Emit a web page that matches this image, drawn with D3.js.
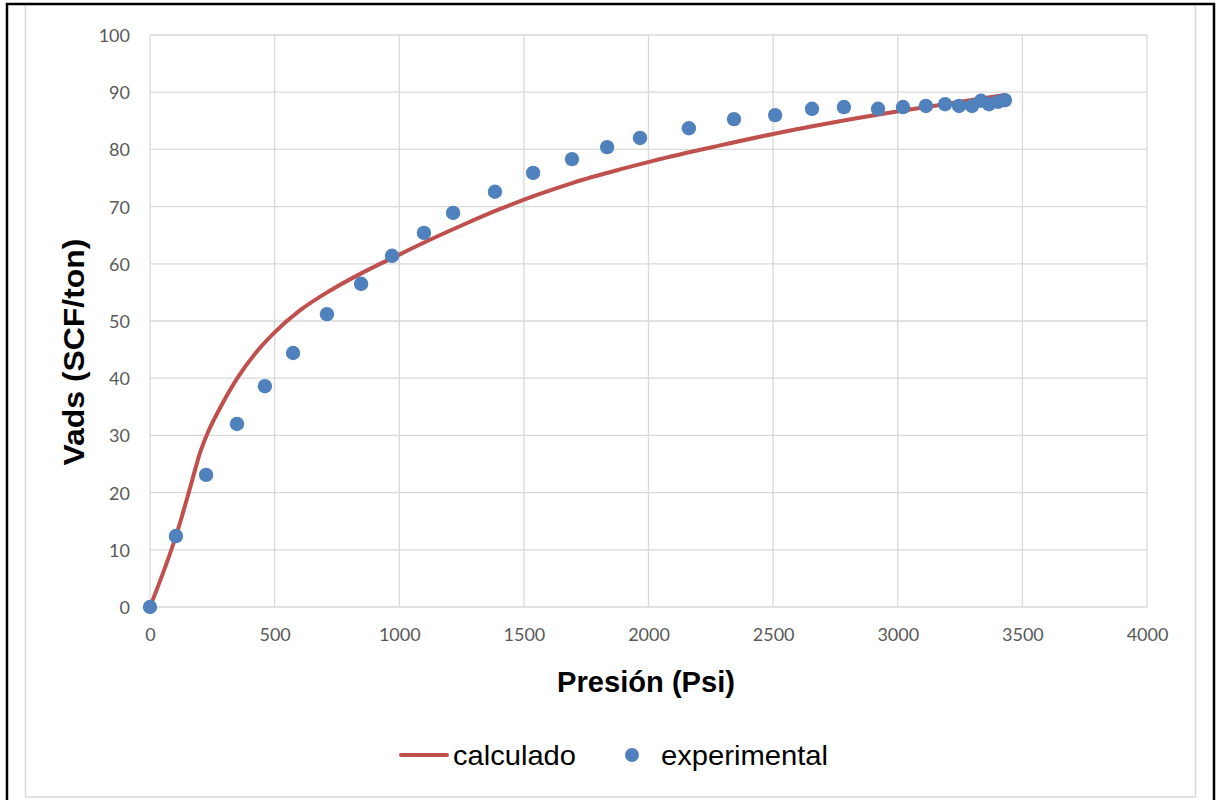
<!DOCTYPE html>
<html><head><meta charset="utf-8">
<script src="https://cdn.jsdelivr.net/npm/d3@7"></script>
<style>body{margin:0;background:#fff}svg{display:block}</style>
</head><body>
<svg id="c" width="1217" height="800"></svg>
<script>
const xTicks = [0,500,1000,1500,2000,2500,3000,3500,4000];
const yTicks = [0,10,20,30,40,50,60,70,80,90,100];
const calcP = [0,112,160,201,233,281,353,420,500,600,722,855,1000,1123,1250,1400,1550,1700,1886,2018,2287,2500,2740,3009,3278,3430];
const calcV = [0,13.5,20.7,27.0,30.6,34.8,40.2,44.2,48.0,51.8,55.3,58.5,61.6,64.2,66.7,69.5,72.0,74.2,76.5,78.0,80.7,82.7,84.7,86.7,88.5,89.5];
const expP = [0,104,225,349,461,574,710,847,971,1099,1216,1384,1537,1693,1834,1966,2162,2343,2508,2656,2784,2921,3021,3113,3190,3246,3298,3334,3366,3402,3430];
const expV = [0,12.4,23.1,32.0,38.6,44.4,51.2,56.5,61.4,65.4,68.9,72.6,75.9,78.3,80.4,82.0,83.7,85.3,86.0,87.1,87.4,87.1,87.4,87.6,87.9,87.6,87.6,88.5,87.9,88.3,88.6];
const seriesNames = ["calculado","experimental"];
const xTitle = "Presión (Psi)", yTitle = "Vads (SCF/ton)";

const svg = d3.select("#c");
svg.append("rect").attr("x",25.5).attr("y",4.5).attr("width",1170).attr("height",792.5)
  .attr("fill","#fff").attr("stroke","#d9d9d9").attr("stroke-width",1.5);
svg.append("path").attr("d","M7,800 V4 H1214 V800").attr("fill","none").attr("stroke","#000").attr("stroke-width",2.5);

const x = d3.scaleLinear().domain([0,4000]).range([150,1147]);
const y = d3.scaleLinear().domain([0,100]).range([607,35]);

const g = svg.append("g");
g.selectAll(".vg").data(xTicks).join("line").attr("x1",d=>x(d)).attr("x2",d=>x(d))
  .attr("y1",y(0)).attr("y2",y(100)).attr("stroke","#d9d9d9").attr("stroke-width",1.3);
g.selectAll(".hg").data(yTicks).join("line").attr("x1",x(0)).attr("x2",x(4000))
  .attr("y1",d=>y(d)).attr("y2",d=>y(d)).attr("stroke","#d9d9d9").attr("stroke-width",1.3);

const xAxis = d3.axisBottom(x).tickValues(xTicks).tickSize(0).tickPadding(0).tickFormat(d3.format("d"));
const yAxis = d3.axisLeft(y).tickValues(yTicks).tickSize(0).tickPadding(0).tickFormat(d3.format("d"));
const xa = svg.append("g").attr("transform","translate(0,627)").call(xAxis);
const ya = svg.append("g").attr("transform","translate(130,0)").call(yAxis);
[xa,ya].forEach(a=>{a.select(".domain").remove();
  a.selectAll("text").attr("font-family","Lato, 'Open Sans', sans-serif").attr("font-size",18).attr("fill","#595959");});
xa.selectAll("text").attr("dy","0.75em");
ya.selectAll("text").attr("dy","0.36em");

svg.append("text").attr("x",646).attr("y",692).attr("text-anchor","middle")
  .attr("font-family","'Liberation Sans', Arial, sans-serif").attr("font-weight","bold").attr("font-size",29)
  .attr("textLength",178).attr("lengthAdjust","spacingAndGlyphs")
  .attr("fill","#000").text(xTitle);
svg.append("text").attr("transform","translate(84,352) rotate(-90)").attr("text-anchor","middle")
  .attr("font-family","'Liberation Sans', Arial, sans-serif").attr("font-weight","bold").attr("font-size",29)
  .attr("textLength",227).attr("lengthAdjust","spacingAndGlyphs")
  .attr("fill","#000").text(yTitle);

const calc = calcP.map((p,i)=>[p,calcV[i]]);
svg.append("path").datum(calc).attr("fill","none").attr("stroke","#c0504d").attr("stroke-width",4)
  .attr("stroke-linejoin","round").attr("stroke-linecap","round")
  .attr("d",d3.line().x(d=>x(d[0])).y(d=>y(d[1])).curve(d3.curveMonotoneX));

const exp = expP.map((p,i)=>[p,expV[i]]);
svg.append("g").selectAll("circle").data(exp).join("circle")
  .attr("cx",d=>x(d[0])).attr("cy",d=>y(d[1])).attr("r",7.2).attr("fill","#4f81bd");

const lg = svg.append("g").attr("font-family","'Liberation Sans', Arial, sans-serif").attr("font-size",28).attr("fill","#000");
lg.append("line").attr("x1",401).attr("x2",447).attr("y1",755).attr("y2",755).attr("stroke","#c0504d").attr("stroke-width",4).attr("stroke-linecap","round");
lg.append("text").attr("x",453).attr("y",765).attr("textLength",123).attr("lengthAdjust","spacingAndGlyphs").text(seriesNames[0]);
lg.append("circle").attr("cx",632).attr("cy",755).attr("r",7).attr("fill","#4f81bd");
lg.append("text").attr("x",661).attr("y",765).attr("textLength",167).attr("lengthAdjust","spacingAndGlyphs").text(seriesNames[1]);
</script>
</body></html>
